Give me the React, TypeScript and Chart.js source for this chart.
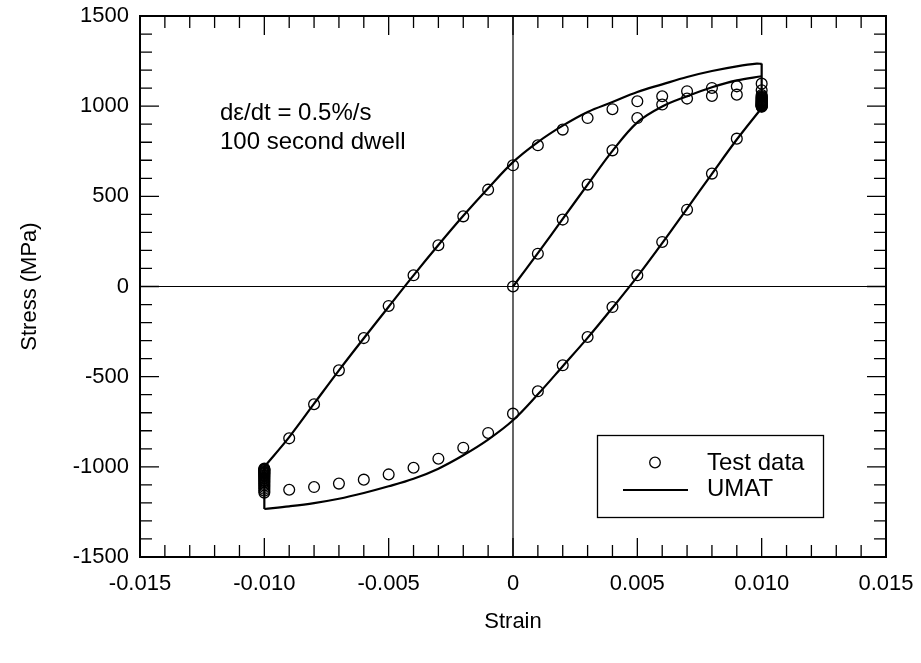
import React, { useEffect, useRef } from 'react';
import { Chart, registerables } from 'chart.js';

Chart.register(...registerables);

const FONT = "'Liberation Sans', Arial, Helvetica, sans-serif";

// ---------- Test data (circles) ----------
// first loading from origin
const load1Strain = [0, 0.001, 0.002, 0.003, 0.004, 0.005, 0.006, 0.007, 0.008, 0.009];
const load1Stress = [0, 182, 371, 565, 755, 934, 1009, 1042, 1057, 1064];
// dwell at +0.010 strain
const dwellTopStrain = 0.01;
const dwellTopStress = [1125, 1088, 1062, 1055, 1050, 1046, 1042, 1038, 1035, 1032, 1029, 1026, 1023, 1020, 1018, 1015, 1013, 1011, 1009, 1007, 1005, 1003, 1001, 999, 997];
// unloading from +0.010 to -0.010
const unloadStrain = [0.009, 0.008, 0.007, 0.006, 0.005, 0.004, 0.003, 0.002, 0.001, 0, -0.001, -0.002, -0.003, -0.004, -0.005, -0.006, -0.007, -0.008, -0.009];
const unloadStress = [820, 626, 426, 247, 62, -114, -280, -437, -581, -705, -812, -894, -955, -1005, -1042, -1071, -1093, -1112, -1127];
// dwell at -0.010 strain
const dwellBotStrain = -0.01;
const dwellBotStress = [-1143, -1132, -1122, -1112, -1103, -1095, -1087, -1080, -1073, -1066, -1060, -1054, -1049, -1044, -1039, -1035, -1031, -1027, -1023, -1019, -1016, -1013, -1010];
// reloading from -0.010 to +0.010
const reloadStrain = [-0.009, -0.008, -0.007, -0.006, -0.005, -0.004, -0.003, -0.002, -0.001, 0, 0.001, 0.002, 0.003, 0.004, 0.005, 0.006, 0.007, 0.008, 0.009];
const reloadStress = [-842, -653, -465, -286, -108, 62, 229, 389, 537, 672, 783, 870, 934, 983, 1027, 1055, 1083, 1101, 1110];

// ---------- UMAT model (line), by branch ----------
const umatLoad1Strain = [0, 0.001, 0.002, 0.003, 0.004, 0.005, 0.006, 0.007, 0.008, 0.009, 0.01];
const umatLoad1Stress = [0, 185, 375, 565, 752, 910, 998, 1055, 1105, 1143, 1166];
const umatDwellTopStress = [1236, 990];
const umatUnloadStrain = [0.01, 0.009, 0.008, 0.007, 0.006, 0.005, 0.004, 0.003, 0.002, 0.001, 0, -0.001, -0.002, -0.003, -0.004, -0.005, -0.006, -0.007, -0.008, -0.009, -0.01];
const umatUnloadStress = [990, 815, 625, 432, 240, 55, -118, -285, -442, -598, -742, -849, -936, -1010, -1066, -1108, -1145, -1177, -1201, -1219, -1234];
const umatDwellBotStress = [-1234, -1000];
const umatReloadStrain = [-0.01, -0.009, -0.008, -0.007, -0.006, -0.005, -0.004, -0.003, -0.002, -0.001, 0, 0.001, 0.002, 0.003, 0.004, 0.005, 0.006, 0.007, 0.008, 0.009, 0.0098, 0.01];
const umatReloadStress = [-1000, -835, -650, -465, -287, -112, 62, 230, 392, 545, 690, 801, 892, 968, 1023, 1079, 1121, 1162, 1195, 1221, 1236, 1234];

// ---------- axes ----------
const xMin = -0.015, xMax = 0.015, xStep = 0.005, xMinor = 0.001;
const yMin = -1500, yMax = 1500, yStep = 500, yMinor = 100;
const xTitle = 'Strain';
const yTitle = 'Stress (MPa)';
const noteLines = ['d\u03b5/dt = 0.5%/s', '100 second dwell'];
const legendLabels = ['Test data', 'UMAT'];

const pts = (xs: number[], ys: number[]) => xs.map((x, i) => ({ x, y: ys[i] }));
const testPoints = [
  ...pts(load1Strain, load1Stress),
  ...dwellTopStress.map((y) => ({ x: dwellTopStrain, y })),
  ...pts(unloadStrain, unloadStress),
  ...dwellBotStress.map((y) => ({ x: dwellBotStrain, y })),
  ...pts(reloadStrain, reloadStress),
];

const lineDs = (data: { x: number; y: number }[], tension: number) => ({
  label: 'UMAT',
  data,
  showLine: true,
  borderColor: '#000',
  borderWidth: 2.2,
  pointRadius: 0,
  fill: false,
  tension,
  order: 2,
});

const framePlugin = {
  id: 'frameTicks',
  beforeDatasetsDraw(chart: any) {
    const { ctx, chartArea: a, scales } = chart;
    const x0 = scales.x.getPixelForValue(0);
    const y0 = scales.y.getPixelForValue(0);
    ctx.save();
    ctx.strokeStyle = '#000';
    ctx.lineWidth = 1.2;
    ctx.beginPath();
    ctx.moveTo(x0, a.top); ctx.lineTo(x0, a.bottom);
    ctx.moveTo(a.left, y0); ctx.lineTo(a.right, y0);
    ctx.stroke();
    ctx.restore();
  },
  afterDatasetsDraw(chart: any) {
    const { ctx, chartArea: a, scales } = chart;
    ctx.save();
    ctx.strokeStyle = '#000';
    ctx.lineWidth = 1.3;
    ctx.beginPath();
    const nx = Math.round((xMax - xMin) / xMinor);
    for (let i = 0; i <= nx; i++) {
      const v = xMin + i * xMinor;
      const major = i % Math.round(xStep / xMinor) === 0;
      const len = major ? 19 : 12;
      const px = scales.x.getPixelForValue(v);
      ctx.moveTo(px, a.bottom); ctx.lineTo(px, a.bottom - len);
      ctx.moveTo(px, a.top); ctx.lineTo(px, a.top + len);
    }
    const ny = Math.round((yMax - yMin) / yMinor);
    for (let i = 0; i <= ny; i++) {
      const v = yMin + i * yMinor;
      const major = i % Math.round(yStep / yMinor) === 0;
      const len = major ? 19 : 12;
      const py = scales.y.getPixelForValue(v);
      ctx.moveTo(a.left, py); ctx.lineTo(a.left + len, py);
      ctx.moveTo(a.right, py); ctx.lineTo(a.right - len, py);
    }
    ctx.stroke();
    ctx.lineWidth = 2;
    ctx.strokeRect(a.left, a.top, a.right - a.left, a.bottom - a.top);

    ctx.fillStyle = '#000';
    ctx.font = `24px ${FONT}`;
    ctx.textAlign = 'left';
    ctx.textBaseline = 'alphabetic';
    ctx.fillText(noteLines[0], 220, 120);
    ctx.fillText(noteLines[1], 220, 149);

    ctx.lineWidth = 1.3;
    ctx.strokeRect(597.5, 435.5, 226, 82);
    ctx.beginPath();
    ctx.arc(655, 462.5, 5.3, 0, Math.PI * 2);
    ctx.stroke();
    ctx.lineWidth = 2;
    ctx.beginPath();
    ctx.moveTo(623, 490); ctx.lineTo(688, 490);
    ctx.stroke();
    ctx.textBaseline = 'middle';
    ctx.fillText(legendLabels[0], 707, 463);
    ctx.fillText(legendLabels[1], 707, 489);
    ctx.restore();
  },
};

export default function App() {
  const ref = useRef<HTMLCanvasElement>(null);
  useEffect(() => {
    document.body.style.margin = '0';
    const canvas = ref.current!;
    const chart = new Chart(canvas, {
      type: 'scatter',
      data: {
        datasets: [
          lineDs(pts(umatLoad1Strain, umatLoad1Stress), 0.35),
          lineDs(umatDwellTopStress.map((y) => ({ x: dwellTopStrain, y })), 0),
          lineDs(pts(umatUnloadStrain, umatUnloadStress), 0.35),
          lineDs(umatDwellBotStress.map((y) => ({ x: dwellBotStrain, y })), 0),
          lineDs(pts(umatReloadStrain, umatReloadStress), 0.35),
          {
            label: 'Test data',
            data: testPoints,
            showLine: false,
            pointStyle: 'circle',
            pointRadius: 5.4,
            pointBorderWidth: 1.3,
            pointBorderColor: '#000',
            pointBackgroundColor: 'rgba(0,0,0,0)',
            order: 1,
          },
        ],
      },
      options: {
        animation: false,
        responsive: false,
        devicePixelRatio: 1,
        layout: { padding: { top: 16, right: 35, bottom: 0, left: 0 } },
        plugins: { legend: { display: false }, tooltip: { enabled: false } },
        scales: {
          x: {
            type: 'linear',
            min: xMin,
            max: xMax,
            grid: { display: false, drawTicks: false },
            border: { display: false },
            ticks: {
              stepSize: xStep,
              padding: 14,
              color: '#000',
              font: { family: FONT, size: 22 },
              maxRotation: 0,
              callback: (v: any) => (Math.abs(v) < 1e-9 ? '0' : Number(v).toFixed(3)),
            },
            title: {
              display: true,
              text: xTitle,
              color: '#000',
              font: { family: FONT, size: 22 },
              padding: { top: 0, bottom: 28 },
            },
            afterFit: (s: any) => {
              s.height = 106;
              s.paddingLeft = 0;
              s.paddingRight = 0;
            },
          },
          y: {
            type: 'linear',
            min: yMin,
            max: yMax,
            grid: { display: false, drawTicks: false },
            border: { display: false },
            ticks: {
              stepSize: yStep,
              padding: 11,
              color: '#000',
              font: { family: FONT, size: 22 },
              callback: (v: any) => String(Math.round(Number(v))),
            },
            title: {
              display: true,
              text: yTitle,
              color: '#000',
              font: { family: FONT, size: 22 },
              padding: { top: 17, bottom: 0 },
            },
            afterFit: (s: any) => {
              s.width = 140;
              s.paddingTop = 0;
              s.paddingBottom = 0;
            },
          },
        },
      },
      plugins: [framePlugin],
    } as any);
    return () => chart.destroy();
  }, []);
  return (
    <div style={{ position: 'absolute', left: 0, top: 0 }}>
      <canvas ref={ref} width={921} height={663} style={{ display: 'block', width: 921, height: 663 }} />
    </div>
  );
}
